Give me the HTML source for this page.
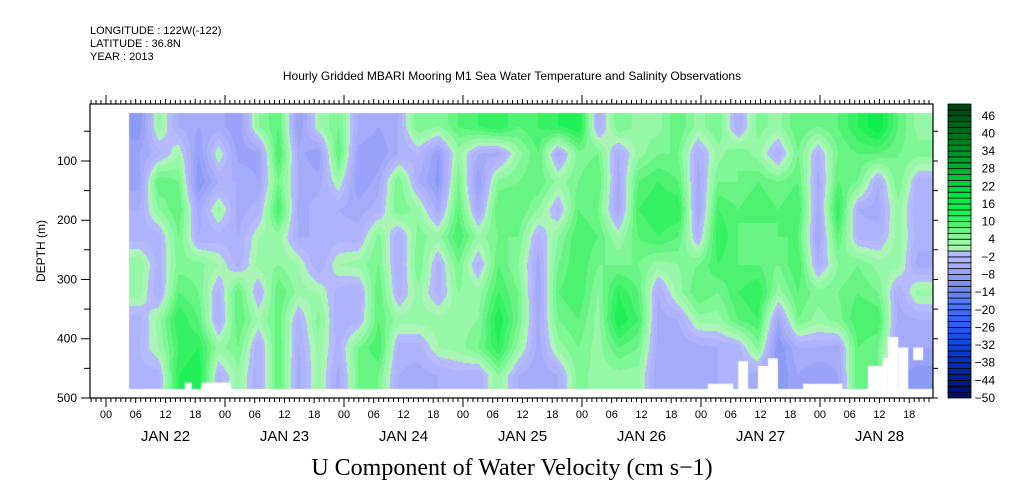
<!DOCTYPE html>
<html><head><meta charset="utf-8">
<style>
html,body{margin:0;padding:0;background:#fff;}
#wrap{position:relative;width:1009px;height:504px;overflow:hidden;font-family:"Liberation Sans",sans-serif;color:#000;}
svg text{font-family:"Liberation Sans",sans-serif;}
</style></head>
<body>
<div id="wrap">
<canvas id="hm" width="1009" height="504" style="position:absolute;left:0;top:0"></canvas>
<svg id="ov" width="1009" height="504" style="position:absolute;left:0;top:0">
<text x="90" y="34" font-size="11">LONGITUDE : 122W(-122)</text>
<text x="90" y="47" font-size="11">LATITUDE : 36.8N</text>
<text x="90" y="60" font-size="11">YEAR : 2013</text>
<text x="512" y="80" font-size="12" text-anchor="middle">Hourly Gridded MBARI Mooring M1 Sea Water Temperature and Salinity Observations</text>
<text x="512" y="475" font-size="24" text-anchor="middle" font-family="Liberation Serif" style="font-family:'Liberation Serif',serif">U Component of Water Velocity (cm s−1)</text>
<text transform="translate(45,251) rotate(-90)" font-size="12" text-anchor="middle">DEPTH (m)</text>
</svg>
</div>
<script>
// ---- data ----
const depths=[42,88,135,182,228,275,322,368,415,462];
const hours=[];for(let i=0;i<40;i++)hours.push(6.6+4.03*i);
// U velocity (cm/s); one array per time column, values top->bottom
const u0=[-10,-6,-7,-4,-3,4,3,-3,-2,-3];
const u1=[3,-3,8,4,-3,-3,-4,3,2,-3];
const u2=[-4,2,6,8,6,5,8,12,10,12];
const u3=[-6,-8,-10,-5,-4,5,6,8,12,14];
const u4=[-5,2,-4,3,-3,2,-3,-4,3,-3];
const u5=[-8,-7,-4,-5,-4,-3,8,8,6,3];
const u6=[4,-7,-6,-3,2,3,-3,2,-4,-4];
const u7=[8,10,6,10,3,4,8,7,8,8];
const u8=[-8,-5,-4,-5,-4,2,3,-3,-4,-5];
const u9=[2,-8,-5,-3,-4,-4,2,5,3,3];
const u10=[6,8,2,-4,-3,2,-3,-4,-3,-5];
const u11=[-4,-7,-8,-5,-3,3,-4,-3,6,6];
const u12=[-6,-8,-5,-3,5,6,8,8,10,6];
const u13=[-4,-4,6,6,-4,-4,-3,3,-3,-4];
const u14=[6,-2,-4,3,5,6,3,3,-3,-5];
const u15=[4,-8,-9,-5,3,-3,-3,3,2,-4];
const u16=[8,3,6,8,10,6,4,3,3,-3];
const u17=[10,-4,-8,-5,3,-3,3,4,6,-4];
const u18=[12,-5,5,8,6,8,10,14,12,4];
const u19=[8,3,6,8,6,4,6,6,3,-4];
const u20=[10,8,8,4,-3,-5,-6,-5,-5,-6];
const u21=[12,-5,3,-3,4,6,8,6,3,-4];
const u22=[14,5,6,8,10,10,10,8,6,5];
const u23=[-4,6,8,6,8,6,4,3,3,3];
const u24=[6,-4,-5,-6,2,6,12,14,8,3];
const u25=[3,3,8,10,8,6,8,10,6,3];
const u26=[3,6,10,12,10,3,-4,-5,-5,-6];
const u27=[8,6,8,12,8,4,3,-4,-6,-5];
const u28=[3,-4,-5,-6,-3,6,8,3,-5,-5];
const u29=[6,3,6,10,12,10,6,3,-4,-4];
const u30=[-4,6,6,8,8,8,10,8,-3,-4];
const u31=[5,3,8,10,6,8,12,10,5,-5];
const u32=[3,-4,6,8,8,6,3,-6,-10,-10];
const u33=[8,6,8,10,8,10,8,6,-4,-6];
const u34=[6,-3,-5,-5,-6,-4,5,3,-4,-8];
const u35=[8,6,8,12,8,4,6,5,-5,-6];
const u36=[12,8,6,-4,-3,6,8,10,8,8];
const u37=[16,8,-4,-5,-3,3,6,10,6,6];
const u38=[8,6,6,3,3,3,-4,-5,-6,-8];
const u39=[3,5,-3,-4,-3,-5,3,-4,-6,-9];
const cols=[u0,u1,u2,u3,u4,u5,u6,u7,u8,u9,u10,u11,u12,u13,u14,u15,u16,u17,u18,u19,u20,u21,u22,u23,u24,u25,u26,u27,u28,u29,u30,u31,u32,u33,u34,u35,u36,u37,u38,u39];
const xTickLabels=["00","06","12","18"];
const dayLabels=["JAN 22","JAN 23","JAN 24","JAN 25","JAN 26","JAN 27","JAN 28"];
const yTickLabels=[100,200,300,400,500];
const cbarLabels=[46,40,34,28,22,16,10,4,-2,-8,-14,-20,-26,-32,-38,-44,-50];
// missing-data patches: [startHour,endHour,topDepth,bottomDepth]
const gaps=[[15.9,17.3,474,486],[19.2,25.2,474,486],[121.4,126.5,476,486],[127.5,129.5,438,486],[131.5,135.5,446,486],[133.5,135.5,433,486],[140.6,148.5,476,486],[153.7,156.7,446,486],[156.7,157.7,432,486],[157.7,159.8,397,486],[159.8,161.8,415,486],[162.8,164.8,415,436]];

// ---- axes ----
const X0=90,X1=933,Y0=104,Y1=398;
const H0=-3.22,H1=166.8;
const D0=3.9,D1=500;
const xs=h=>X0+(h-H0)/(H1-H0)*(X1-X0);
const ys=d=>Y0+(d-D0)/(D1-D0)*(Y1-Y0);
const dataH0=4.6,dataH1=166.8,dataD0=19,dataD1=485;

const stops=[[-50,[0,10,96]],[-40,[0,40,170]],[-30,[20,75,235]],[-20,[70,110,248]],[-12,[122,140,240]],[-6,[160,168,248]],[-1,[182,186,255]],[0.01,[180,244,188]],[4,[140,248,160]],[8,[90,242,120]],[14,[20,240,80]],[20,[0,224,64]],[28,[0,176,48]],[40,[0,112,32]],[50,[0,64,16]]];
function colorOf(v){
  if(v<=stops[0][0])return stops[0][1];
  for(let i=1;i<stops.length;i++){if(v<=stops[i][0]){const a=stops[i-1],b=stops[i];const t=(v-a[0])/(b[0]-a[0]);return a[1].map((c,k)=>Math.round(c+(b[1][k]-c)*t));}}
  return stops[stops.length-1][1];
}
function levelColor(v){const lo=Math.floor(v/2)*2;return colorOf(lo+1);}
function interp(h,d){
  let fi=(h-hours[0])/(hours[1]-hours[0]);fi=Math.max(0,Math.min(cols.length-1,fi));
  let i0=Math.min(Math.floor(fi),cols.length-2);const tx=fi-i0;
  let fj=0,j0=0;
  if(d<=depths[0]){j0=0;fj=0;}else if(d>=depths[depths.length-1]){j0=depths.length-2;fj=1;}
  else{for(let j=0;j<depths.length-1;j++){if(d<=depths[j+1]){j0=j;fj=(d-depths[j])/(depths[j+1]-depths[j]);break;}}}
  const a=cols[i0][j0],b=cols[i0+1][j0],c=cols[i0][j0+1],e=cols[i0+1][j0+1];
  return (a*(1-tx)+b*tx)*(1-fj)+(c*(1-tx)+e*tx)*fj;
}
const cv=document.getElementById('hm');const ctx=cv.getContext('2d');
const px0=Math.round(xs(dataH0)),px1=Math.round(xs(dataH1)),py0=Math.round(ys(dataD0)),py1=Math.round(ys(dataD1));
const img=ctx.createImageData(px1-px0,py1-py0);
for(let y=py0;y<py1;y++){const d=D0+(y+0.5-Y0)/(Y1-Y0)*(D1-D0);
  for(let x=px0;x<px1;x++){const h=H0+(x+0.5-X0)/(X1-X0)*(H1-H0);
    const c=levelColor(interp(h,d));const k=((y-py0)*(px1-px0)+(x-px0))*4;
    img.data[k]=c[0];img.data[k+1]=c[1];img.data[k+2]=c[2];img.data[k+3]=255;}}
ctx.putImageData(img,px0,py0);
ctx.fillStyle='#fff';
gaps.forEach(g=>{const y0=ys(g[2]),y1=Math.min(ys(g[3]),py1);ctx.fillRect(xs(g[0]),y0,xs(g[1])-xs(g[0]),y1-y0);});

const NS='http://www.w3.org/2000/svg';
const svg=document.getElementById('ov');
function mk(tag,attrs){const e=document.createElementNS(NS,tag);for(const k in attrs)e.setAttribute(k,attrs[k]);svg.appendChild(e);return e;}
let fr=mk('rect',{x:X0,y:Y0,width:X1-X0,height:Y1-Y0,fill:'none',stroke:'#000','stroke-width':1.2});


// x ticks
let pathB='',pathT='';
for(let h=-3;h<=166;h++){const x=xs(h).toFixed(1);const major=(h%24===0);const len=major?9:(h%6===0?5:4);
  pathB+=`M${x} ${Y1}V${Y1+len}`;pathT+=`M${x} ${Y0}V${Y0-len}`;}
let tb=mk('path',{d:pathB,stroke:'#000','stroke-width':1,fill:'none'});


let tt=mk('path',{d:pathT,stroke:'#000','stroke-width':1,fill:'none'});


for(let h=0;h<=166;h+=6){const t=mk('text',{x:xs(h),y:418,'font-size':11,'text-anchor':'middle'});t.textContent=xTickLabels[(h/6)%4];
  
  }
dayLabels.forEach((s,i)=>{const t=mk('text',{x:xs(i*24+12),y:441,'font-size':15,'text-anchor':'middle'});t.textContent=s;
  
  });
// y ticks
let pY='';
for(let d=50;d<=500;d+=50){const y=ys(d).toFixed(1);const len=d%100===0?9:6;pY+=`M${X0} ${y}H${X0-len}M${X1} ${y}H${X1+5}`;}
let ty=mk('path',{d:pY,stroke:'#000','stroke-width':1,fill:'none'});


yTickLabels.forEach(v=>{const t=mk('text',{x:77,y:ys(v)+4,'font-size':12,'text-anchor':'end'});t.textContent=v;
  
  });
// colorbar
const CB0=948,CB1=971;
const cbY=v=>Y0+(50-v)/100*(Y1-Y0);
for(let k=0;k<50;k++){const lo=-50+2*k;const c=colorOf(lo+1);
  const r=mk('rect',{x:CB0,y:cbY(lo+2),width:CB1-CB0,height:cbY(lo)-cbY(lo+2),fill:`rgb(${c[0]},${c[1]},${c[2]})`,stroke:'#000','stroke-width':0.8});
  
  }
cbarLabels.forEach(v=>{const t=mk('text',{x:995,y:cbY(v)+4,'font-size':12,'text-anchor':'end'});t.textContent=v<0?'−'+(-v):String(v);
  
  });
</script>
</body></html>
